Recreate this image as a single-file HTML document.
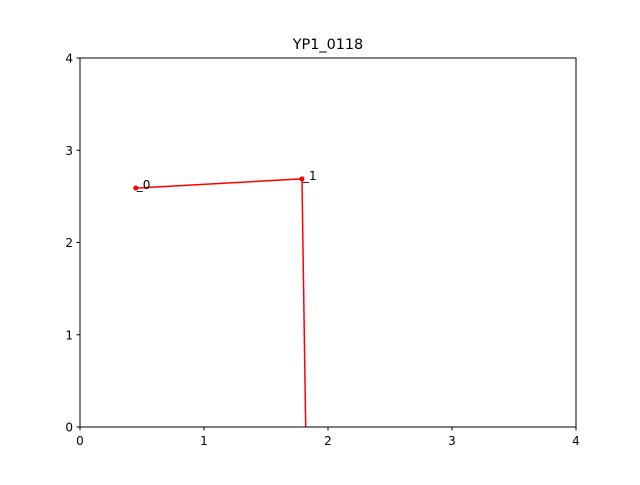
<!DOCTYPE html>
<html><head><meta charset="utf-8"><style>
body{margin:0;background:#fff;}
svg text{font-family:"DejaVu Sans","Liberation Sans",sans-serif;}
</style></head><body>
<svg id="chart" width="640" height="480" xmlns="http://www.w3.org/2000/svg">
<rect width="640" height="480" fill="#fff"/>
<text x="328" y="49" font-size="14.4" text-anchor="middle">YP1_0118</text>
<g id="marks"></g>
<rect x="80" y="58" width="496" height="369" fill="none" stroke="#000" stroke-width="1"/>
<g id="axes"></g>
</svg>
<script>
const xTicks=[0,1,2,3,4];
const yTicks=[0,1,2,3,4];
const xs=[0.45,1.79,1.82];
const ys=[2.59,2.69,0];
const markerIdx=[0,1];
const labels=["_0","_1"];
const X0=80,X1=576,Y0=427,Y1=58;
const sx=v=>X0+(v-0)/(4-0)*(X1-X0);
const sy=v=>Y0-(v-0)/(4-0)*(Y0-Y1);
const NS="http://www.w3.org/2000/svg";
const axes=document.getElementById('axes'),marks=document.getElementById('marks');
function mk(tag,attrs,parent){const e=document.createElementNS(NS,tag);for(const k in attrs)e.setAttribute(k,attrs[k]);parent.appendChild(e);return e;}
xTicks.forEach(t=>{
 const l=mk('line',{x1:sx(t),x2:sx(t),y1:Y0,y2:Y0+3.5,stroke:'#000'},axes);
 
 
 const tx=mk('text',{x:sx(t),y:Y0+18,'font-size':12,'text-anchor':'middle'},axes);tx.textContent=t;
 
 
});
yTicks.forEach(t=>{
 const l=mk('line',{x1:X0-3.5,x2:X0,y1:sy(t),y2:sy(t),stroke:'#000'},axes);
 
 
 const tx=mk('text',{x:X0-7,y:sy(t)+4.5,'font-size':12,'text-anchor':'end'},axes);tx.textContent=t;
 
 
});
const pl=mk('polyline',{points:xs.map((x,i)=>sx(x)+','+sy(ys[i])).join(' '),fill:'none',stroke:'#f00','stroke-width':1.5},marks);


markerIdx.forEach(i=>{
 const c=mk('circle',{cx:sx(xs[i]),cy:sy(ys[i]),r:2.5,fill:'#f00'},marks);
 
 
 const t=mk('text',{x:sx(xs[i])+1,y:sy(ys[i])+1,'font-size':12},marks);t.textContent=labels[i];
 
 
});
</script>
</body></html>
